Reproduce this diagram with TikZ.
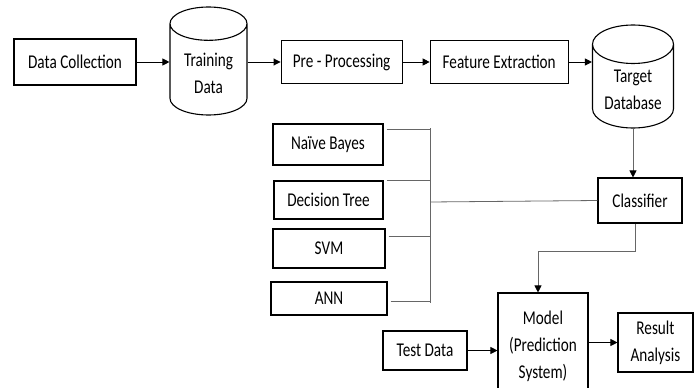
\documentclass[tikz,border=0pt]{standalone}
\usepackage{fontspec}
\setmainfont{Carlito}[FakeStretch=0.78]
\usetikzlibrary{arrows.meta, positioning, shapes.geometric}

\begin{document}
\begin{tikzpicture}[x=1pt, y=-1pt,
  box/.style={draw, line width=1.1pt, align=center, inner sep=2pt},
  db/.style={cylinder, shape border rotate=90, draw, line width=1.1pt, align=center, aspect=0.6, anchor=shape center},
  ->/.style={-{Triangle[length=7pt, width=7pt]}, line width=0.9pt},
  link/.style={gray!80!black, line width=0.8pt},
  glink/.style={link, -{Triangle[length=7pt, width=7pt, color=black]}},
  font=\fontsize{19.5}{27}\selectfont, node distance=34pt]
  \useasboundingbox (0,0) rectangle (699,388);
  % top row
  \node[box, minimum width=122pt, minimum height=46pt] (dc) at (75,62) {Data Collection};
  \node[db, minimum width=77pt, minimum height=108pt] (td) at (208.5,61) {Training\\Data};
  \node[box, minimum width=121pt, minimum height=43pt] (pp) [right = 33pt of td.east |- dc] {Pre - Processing};
  \node[box, minimum width=138pt, minimum height=43pt] (fe) [right = 27pt of pp] {Feature Extraction};
  \node[db, minimum width=81pt, minimum height=103pt] (tdb) at (633,76.5) {Target\\Database};
  \draw[->] (dc) -- (dc -| td.west);
  \draw[->] (td.east |- pp) -- (pp);
  \draw[->] (pp) -- (fe);
  \draw[->] (fe) -- (fe -| tdb.west);
  % classifiers
  \node[box, minimum width=110pt, minimum height=41pt] (nb) at (328,144.5) {Naïve Bayes};
  \node[box, minimum width=109pt, minimum height=38pt] (dt) at (328.5,200) {Decision Tree};
  \node[box, minimum width=112pt, minimum height=39pt] (svm) at (329,248.5) {SVM};
  \node[box, minimum width=116pt, minimum height=33pt] (ann) at (329,298.5) {ANN};
  \coordinate (bt) at (430,128);
  \coordinate (bb) at (430,303);
  \coordinate (bm) at (430,202);
  \draw[link] (bt) -- (bb);
  \draw[link] ([xshift=3pt, yshift=-6pt]nb.north east) -- ([yshift=-6pt]nb.north east -| bt);
  \draw[link] ([xshift=3pt]dt.north east) -- (dt.north east -| bt);
  \draw[link] ([xshift=3pt, yshift=-8pt]svm.north east) -- ([yshift=-8pt]svm.north east -| bt);
  \draw[link] ([xshift=3pt, yshift=-20pt]ann.north east) -- ([yshift=-20pt]ann.north east -| bt);
  % lower part (model box runs past the bottom edge)
  \node[box, minimum width=84pt, minimum height=45pt] (cls) at (640,200.5) {Classifier};
  \node[box, minimum width=90pt, minimum height=106pt] (mdl) at (543,346) {Model\\(Prediction\\System)};
  \node[box, minimum width=84pt, minimum height=39pt] (tst) at (425,350.5) {Test Data};
  \node[box, minimum width=75pt, minimum height=59pt] (res) at (655.5,342.5) {Result\\Analysis};
  \draw[link] (bm) -- (cls.west);
  \draw[glink] (tdb.south) -- (tdb.south |- cls.north);
  \draw[glink] ([xshift=-5pt]cls.south) -- ++(0,28) -| ([xshift=-5pt]mdl.north);
  \draw[->] (tst) -- (tst -| mdl.west);
  \draw[->] (mdl.east |- res) -- (res);
\end{tikzpicture}
\end{document}
